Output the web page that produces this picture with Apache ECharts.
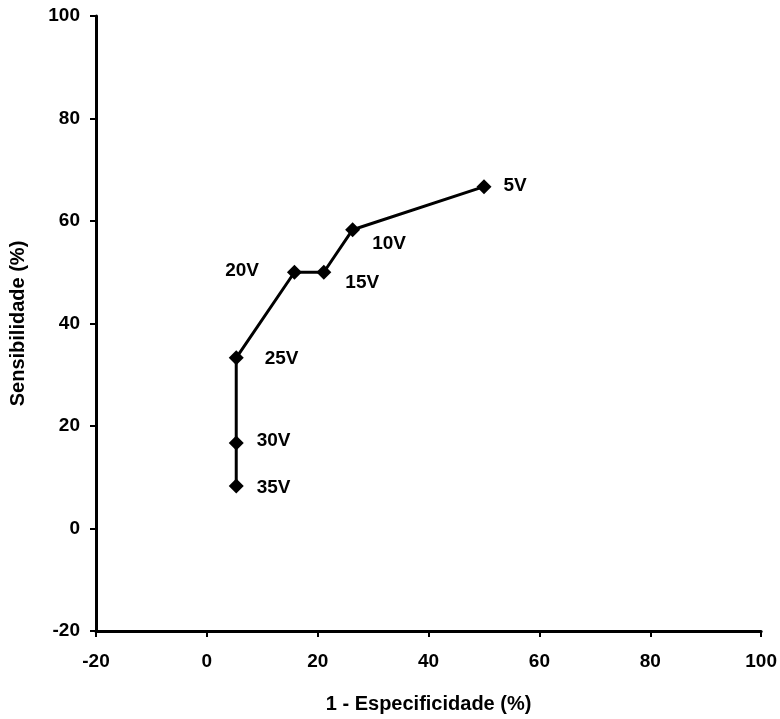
<!DOCTYPE html>
<html>
<head>
<meta charset="utf-8">
<script src="https://cdn.jsdelivr.net/npm/echarts@6/dist/echarts.min.js"></script>
<style>
html,body{margin:0;padding:0;background:#fff;}
#main{width:780px;height:719px;}
</style>
</head>
<body>
<div id="main"></div>
<script>
var voltages = ['5V','10V','15V','20V','25V','30V','35V'];
var especificidade = [50, 26.3, 21.1, 15.8, 5.3, 5.3, 5.3];
var sensibilidade = [66.7, 58.3, 50, 50, 33.3, 16.7, 8.3];
var xTicks = [-20, 0, 20, 40, 60, 80, 100];
var yTicks = [-20, 0, 20, 40, 60, 80, 100];

var font = 'Liberation Sans, Arial, sans-serif';
var labelStyles = {
  '5V':  {position: 'right', distance: 12, offset: [0, -1]},
  '10V': {position: 'right', distance: 12, offset: [0, 14]},
  '15V': {position: 'right', distance: 14, offset: [0, 11]},
  '20V': {position: 'left', distance: 28, offset: [0, -1]},
  '25V': {position: 'right', distance: 21, offset: [0, 1]},
  '30V': {position: 'right', distance: 13, offset: [0, -2]},
  '35V': {position: 'right', distance: 13, offset: [0, 2]}
};

var data = voltages.map(function (v, i) {
  var ls = labelStyles[v];
  return {
    value: [especificidade[i], sensibilidade[i]],
    name: v,
    label: {
      show: true,
      formatter: v,
      position: ls.position,
      distance: ls.distance,
      offset: ls.offset,
      color: '#000',
      fontFamily: font,
      fontWeight: 'bold',
      fontSize: 19
    }
  };
});

var chart = echarts.init(document.getElementById('main'));
chart.setOption({
  backgroundColor: '#fff',
  animation: false,
  grid: {left: 95, right: 18, top: 16, bottom: 87, containLabel: false},
  xAxis: {
    type: 'value',
    min: xTicks[0], max: xTicks[xTicks.length - 1], interval: 20,
    name: '1 - Especificidade (%)',
    nameLocation: 'middle', nameGap: 63,
    nameTextStyle: {color: '#000', fontFamily: font, fontWeight: 'bold', fontSize: 20},
    axisLine: {show: true, onZero: false, lineStyle: {color: '#000', width: 3}},
    axisTick: {show: true, inside: false, length: 6, lineStyle: {color: '#000', width: 2}},
    axisLabel: {color: '#000', fontFamily: font, fontWeight: 'bold', fontSize: 19, margin: 21},
    splitLine: {show: false}
  },
  yAxis: {
    type: 'value',
    min: yTicks[0], max: yTicks[yTicks.length - 1], interval: 20,
    name: 'Sensibilidade (%)',
    nameLocation: 'middle', nameGap: 68,
    nameTextStyle: {color: '#000', fontFamily: font, fontWeight: 'bold', fontSize: 20},
    axisLine: {show: true, onZero: false, lineStyle: {color: '#000', width: 3}},
    axisTick: {show: true, inside: false, length: 6, lineStyle: {color: '#000', width: 2}},
    axisLabel: {color: '#000', fontFamily: font, fontWeight: 'bold', fontSize: 19, margin: 16},
    splitLine: {show: false}
  },
  series: [{
    type: 'line',
    data: data,
    symbol: 'diamond',
    symbolSize: 15,
    itemStyle: {color: '#000'},
    lineStyle: {color: '#000', width: 3},
    z: 3
  }]
});
</script>
</body>
</html>
